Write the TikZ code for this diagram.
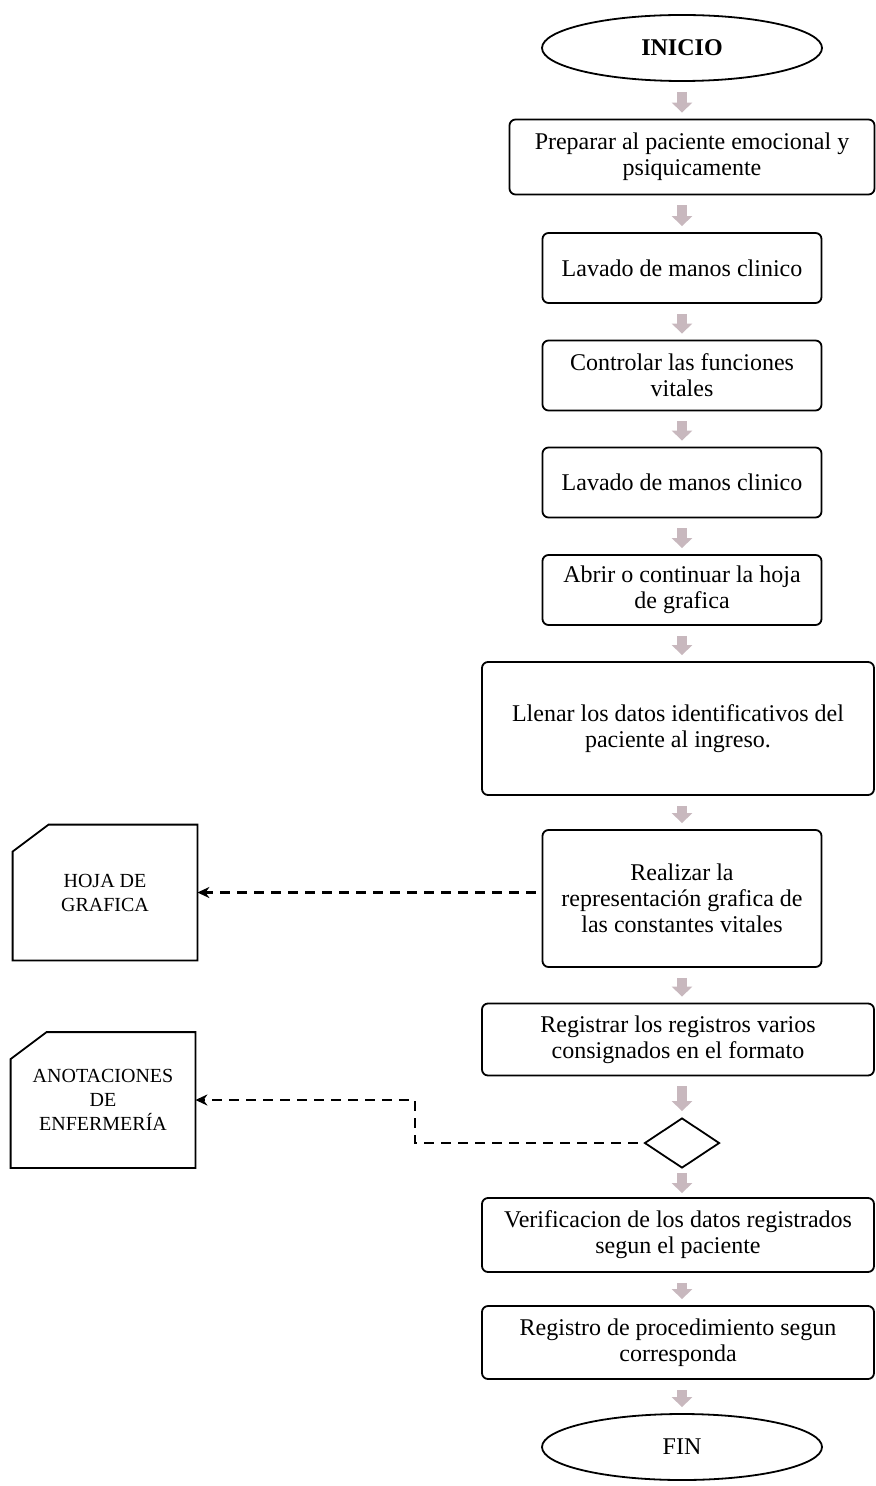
\documentclass[tikz,border=0pt]{standalone}
\usepackage{fontspec}
\setmainfont{Liberation Serif}
\usetikzlibrary{shapes.geometric,arrows.meta}
\definecolor{flecha}{RGB}{200,184,190}
\begin{document}
\begin{tikzpicture}[x=0.5pt,y=-0.5pt,
  caja/.style={draw, line width=0.9pt, rounded corners=3pt, align=center, font=\fontsize{12}{13}\selectfont, inner sep=2pt},
  term/.style={draw, ellipse, line width=0.9pt, minimum width=140pt, minimum height=33pt, font=\fontsize{12}{13}\selectfont},
  doc/.style={minimum width=92pt, minimum height=67.5pt, align=center, font=\fontsize{10}{12}\selectfont},
  paso/.style={draw=flecha, line width=5pt, -{Triangle[length=5pt,width=10pt]}, shorten <=5pt, shorten >=3pt},
  ref/.style={line width=1.2pt, dash pattern=on 5pt off 3.5pt, shorten <=3pt, -{Stealth[length=6pt,width=5.5pt]}}]
\useasboundingbox (0,0) rectangle (876,1486);
\node[term, font=\fontsize{12}{13}\selectfont\bfseries] (ini) at (682,48) {INICIO};
\node[caja, minimum width=182.5pt, minimum height=37.5pt] (prep) at (692,157) {Preparar al paciente emocional y\\psiquicamente};
\node[caja, minimum width=139.5pt, minimum height=35pt] (lav1) at (682,268) {Lavado de manos clinico};
\node[caja, minimum width=139.5pt, minimum height=35pt] (ctrl) at (682,375.5) {Controlar las funciones\\vitales};
\node[caja, minimum width=139.5pt, minimum height=35pt] (lav2) at (682,482.5) {Lavado de manos clinico};
\node[caja, minimum width=139.5pt, minimum height=35pt] (abrir) at (682,590) {Abrir o continuar la hoja\\de grafica};
\node[caja, minimum width=196pt, minimum height=66.5pt] (llenar) at (678,728.5) {Llenar los datos identificativos del\\paciente al ingreso.};
\node[caja, minimum width=139.5pt, minimum height=68.5pt] (repr) at (682,898.5) {Realizar la\\representación grafica de\\las constantes vitales};
\node[caja, minimum width=196pt, minimum height=36pt] (regis) at (678,1039.5) {Registrar los registros varios\\consignados en el formato};
\node[draw, diamond, minimum width=37.5pt, minimum height=25pt, inner sep=0pt, line width=0.9pt] (dec) at (682,1143) {};
\node[caja, minimum width=196pt, minimum height=37pt] (verif) at (678,1235) {Verificacion de los datos registrados\\segun el paciente};
\node[caja, minimum width=196pt, minimum height=36.5pt] (proc) at (678,1342.5) {Registro de procedimiento segun\\corresponda};
\node[term] (fin) at (682,1447) {FIN};
% documentos
\node[doc] (hoja) at (105,892.5) {HOJA DE\\GRAFICA};
\node[doc] (anot) at (103,1100) {ANOTACIONES\\DE\\ENFERMERÍA};
\foreach \d in {hoja,anot}
  \draw[line width=0.9pt] (\d.south west) -- ([yshift=-13.5pt]\d.north west) -- ([xshift=18pt]\d.north west) -- (\d.north east) -- (\d.south east) -- cycle;
% flechas del flujo
\foreach \a/\b in {ini/prep, prep/lav1, lav1/ctrl, ctrl/lav2, lav2/abrir, abrir/llenar, llenar/repr, repr/regis, regis/dec, verif/proc, proc/fin}
  \draw[paso] (ini.south |- \a.south) -- (ini.south |- \b.north);
\draw[paso, shorten <=2pt, shorten >=2pt] (dec.south) -- (ini.south |- verif.north);
% registros
\draw[ref] (repr.west |- hoja.east) -- (hoja.east);
\coordinate (codo) at (415,1143);
\draw[ref] (dec.west) -- (codo) |- (anot.east);
\end{tikzpicture}
\end{document}
